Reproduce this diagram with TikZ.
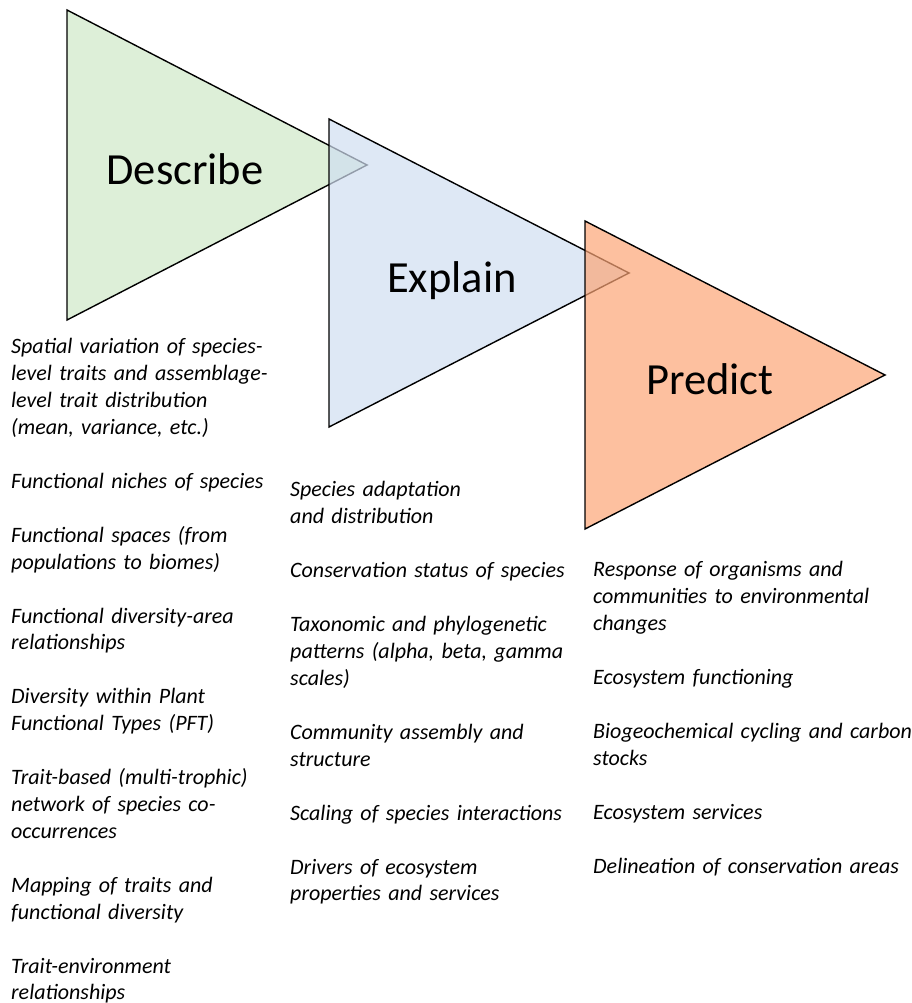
\documentclass[tikz,border=0pt]{standalone}
\usepackage{fontspec}
\setmainfont{Carlito}
\usetikzlibrary{positioning}
\definecolor{colordescribe}{RGB}{206,232,199}
\definecolor{colorexplain} {RGB}{208,222,241}
\definecolor{colorpredict} {RGB}{252,165,118}

\begin{document}
\begin{tikzpicture}[
    x=1pt, y=-1pt,
    node distance = 26.8pt,
    phase/.style={draw=black,line width=1.4pt,fill opacity=0.7},
    title/.style={font={\fontsize{44.5}{52}\selectfont},anchor=base,inner sep=0pt},
    item/.style={font={\fontsize{22}{26.8}\selectfont\itshape},align=left,inner sep=0pt,
        execute at begin node=\strut,execute at end node=\strut},
    colone/.style={item,text width=280pt},
    coltwo/.style={item,text width=290pt},
    colthree/.style={item,text width=322pt},
]
    \useasboundingbox (0,0) rectangle (912,1003);

    % Triangles
    \coordinate (desctop) at (67,10);   \coordinate (descbot) at (67,320);  \coordinate (desctip) at (367,165);
    \coordinate (expltop) at (329,119); \coordinate (explbot) at (329,427); \coordinate (expltip) at (629,273);
    \coordinate (predtop) at (585,221); \coordinate (predbot) at (585,529); \coordinate (predtip) at (885,375);
    \draw[phase,fill=colordescribe] (desctop) -- (desctip) -- (descbot) -- cycle;
    \draw[phase,fill=colorexplain]  (expltop) -- (expltip) -- (explbot) -- cycle;
    \draw[phase,fill=colorpredict]  (predtop) -- (predtip) -- (predbot) -- cycle;

    % Titles
    \node[title] (describe) at (185,185) {Describe};
    \node[title] (explain)  at (452,292) {Explain};
    \node[title] (predict)  at (710,394) {Predict};

    % Describe column
    \node[colone,anchor=north west] (spatial) at (11,335)
        {Spatial variation of species-\\level traits and assemblage-\\level trait distribution\\(mean, variance, etc.)};
    \node[colone,below=of spatial]  (niches)   {Functional niches of species};
    \node[colone,below=of niches]   (spaces)   {Functional spaces (from\\populations to biomes)};
    \node[colone,below=of spaces]   (area)     {Functional diversity-area\\relationships};
    \node[colone,below=of area]     (pft)      {Diversity within Plant\\Functional Types (PFT)};
    \node[colone,below=of pft]      (network)  {Trait-based (multi-trophic)\\network of species co-\\occurrences};
    \node[colone,below=of network]  (mapping)  {Mapping of traits and\\functional diversity};
    \node[colone,below=of mapping]  (traitenv) {Trait-environment\\relationships};

    % Explain column
    \node[coltwo,anchor=north west] (adaptation) at (290,478) {Species adaptation\\and distribution};
    \node[coltwo,below=of adaptation] (status)     {Conservation status of species};
    \node[coltwo,below=of status]     (taxo)       {Taxonomic and phylogenetic\\patterns (alpha, beta, gamma\\scales)};
    \node[coltwo,below=of taxo]       (assembly)   {Community assembly and\\structure};
    \node[coltwo,below=of assembly]   (scaling)    {Scaling of species interactions};
    \node[coltwo,below=of scaling]    (drivers)    {Drivers of ecosystem\\properties and services};

    % Predict column
    \node[colthree,anchor=north west] (response) at (593,558)
        {Response of organisms and\\communities to environmental\\changes};
    \node[colthree,below=of response]    (functioning) {Ecosystem functioning};
    \node[colthree,below=of functioning] (cycling)     {Biogeochemical cycling and carbon\\stocks};
    \node[colthree,below=of cycling]     (services)    {Ecosystem services};
    \node[colthree,below=of services]    (delineation) {Delineation of conservation areas};

\end{tikzpicture}
\end{document}
